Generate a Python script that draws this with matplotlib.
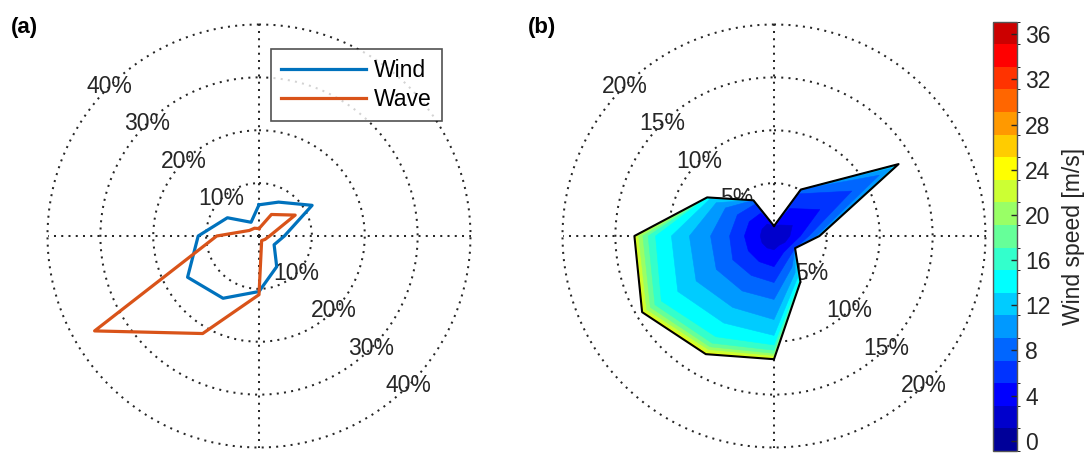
import numpy as np
import matplotlib
matplotlib.use("Agg")
import matplotlib.pyplot as plt
from matplotlib.colors import ListedColormap, BoundaryNorm
from matplotlib.lines import Line2D
import matplotlib.cm as cm

plt.rcParams['font.family'] = ['Liberation Sans', 'DejaVu Sans']

# ---------------- data ----------------
directions = [0, 30, 60, 90, 120, 150, 180, 210, 240, 270, 300, 330]   # deg, clockwise from N

# panel (a): occurrence frequency (%) per direction
wind_freq = [5.9, 7.4, 11.6, 4.8, 3.3, 6.7, 10.5, 13.6, 15.6, 11.5, 6.9, 3.0]
wave_freq = [1.4, 4.7, 7.9, 2.0, 1.3, 1.0, 11.1, 21.3, 35.9, 8.0, 2.1, 1.7]
rings_a = [10, 20, 30, 40]
ring_labels_a = ['10%', '20%', '30%', '40%']

# panel (b): cumulative frequency (%) at upper edge of each speed class, per direction
speed_edges = [-0.9, 1.1, 3.1, 5.1, 7.1, 9.1, 11.1, 13.1, 15.1, 17.1, 19.1,
               21.1, 23.1, 25.1, 27.1, 29.1, 31.1, 33.1, 35.1, 37.1]
# rows = speed classes 2..13 (1.1-3.1 m/s ... 23.1-25.1 m/s)
cum_freq_b = [
    [0.95, 1.2, 2.0, 1.5, 1.2, 1.0, 1.3, 1.3, 1.3, 1.3, 1.3, 1.3],
    [0.95, 3.0, 5.0, 2.5, 1.8, 1.8, 2.9, 2.8, 2.8, 2.8, 2.7, 2.5],
    [0.95, 4.6, 8.5, 3.3, 2.3, 2.6, 4.4, 4.3, 4.5, 4.2, 4.0, 3.5],
    [0.95, 5.07, 11.5, 4.0, 2.3, 3.4, 6.0, 6.0, 6.3, 6.0, 5.3, 3.9],
    [0.95, 5.07, 12.8, 4.3, 2.3, 4.0, 7.9, 7.8, 8.5, 8.0, 6.3, 3.9],
    [0.95, 5.07, 13.3, 4.3, 2.3, 4.5, 9.4, 9.5, 10.5, 9.7, 7.0, 3.9],
    [0.95, 5.07, 13.6, 4.3, 2.3, 4.8, 10.3, 11.0, 12.3, 11.2, 7.3, 3.9],
    [0.95, 5.07, 13.6, 4.3, 2.3, 5.0, 10.8, 11.7, 13.0, 11.9, 7.3, 3.9],
    [0.95, 5.07, 13.6, 4.3, 2.3, 5.0, 11.1, 12.1, 13.5, 12.4, 7.3, 3.9],
    [0.95, 5.07, 13.6, 4.3, 2.3, 5.0, 11.3, 12.4, 13.9, 12.8, 7.3, 3.9],
    [0.95, 5.07, 13.6, 4.3, 2.3, 5.0, 11.5, 12.7, 14.2, 13.05, 7.3, 3.9],
    [0.95, 5.07, 13.6, 4.3, 2.3, 5.0, 11.65, 12.9, 14.4, 13.2, 7.3, 3.9],
]
first_class = 2
rings_b = [5, 10, 15, 20]
ring_labels_b = ['5%', '10%', '15%', '20%']
cbar_ticks = [0, 4, 8, 12, 16, 20, 24, 28, 32, 36]

# MATLAB jet(19)
jet19 = [(0, 0, .6), (0, 0, .8), (0, 0, 1), (0, .2, 1), (0, .4, 1), (0, .6, 1),
         (0, .8, 1), (0, 1, 1), (.2, 1, .8), (.4, 1, .6), (.6, 1, .4), (.8, 1, .2),
         (1, 1, 0), (1, .8, 0), (1, .6, 0), (1, .4, 0), (1, .2, 0), (1, 0, 0), (.8, 0, 0)]

# ---------------- figure ----------------
W, H = 1089, 453
fig = plt.figure(figsize=(W / 100, H / 100), dpi=100)

R = 211.5
grid_kw = dict(color='#262626', linestyle=(0, (1, 2.6)), linewidth=1.45)
FS = 16.5


def make_polar(cx, cy, rmax, rings):
    ax = fig.add_axes([(cx - R) / W, (H - cy - R) / H, 2 * R / W, 2 * R / H],
                      projection='polar')
    ax.set_theta_zero_location('N')
    ax.set_theta_direction(-1)
    ax.set_ylim(0, rmax)
    ax.set_rgrids(rings, labels=[])
    ax.set_thetagrids([0, 90, 180, 270], labels=[])
    ax.grid(True, **grid_kw)
    for gl in ax.yaxis.get_gridlines() + ax.xaxis.get_gridlines():
        gl.set_clip_on(False)
    ax.spines['polar'].set_visible(False)
    ax.patch.set_visible(False)
    ax.tick_params(length=0)
    return ax


def closed(v):
    return np.r_[v, v[0]]


theta = np.deg2rad(directions)
theta_c = closed(theta)

# ---- panel (a)
axa = make_polar(259, 236, 40, rings_a)
for r, lab in zip(rings_a, ring_labels_a):
    for ang in (315, 135):
        axa.text(np.deg2rad(ang), r, lab, ha='center', va='center', fontsize=FS,
                 color='#262626', zorder=1)
axa.plot(theta_c, closed(wind_freq), color='#0072BD', lw=2.3, zorder=3)
axa.plot(theta_c, closed(wave_freq), color='#D95319', lw=2.3, zorder=4)
handles = [Line2D([], [], color='#0072BD', lw=2.3), Line2D([], [], color='#D95319', lw=2.3)]
leg = axa.legend(handles, ['Wind', 'Wave'], loc='upper left',
                 bbox_to_anchor=(271 / W, 1 - 49 / H), bbox_transform=fig.transFigure,
                 fontsize=FS, frameon=True, fancybox=False, edgecolor='#262626',
                 handlelength=3.7, handletextpad=0.35, labelspacing=0.25,
                 borderpad=0.45, borderaxespad=0)
leg.get_frame().set_linewidth(1.2)

# ---- panel (b)
axb = make_polar(774, 236, 20, rings_b)
for r, lab in zip(rings_b, ring_labels_b):
    for ang in (315, 135):
        axb.text(np.deg2rad(ang), r, lab, ha='center', va='center', fontsize=FS,
                 color='#262626', zorder=1)
n_cls = len(cum_freq_b)
for i in range(n_cls - 1, -1, -1):
    col = jet19[first_class - 1 + i]
    axb.fill(theta_c, closed(cum_freq_b[i]), facecolor=col, edgecolor=col, lw=0.4, zorder=2)
axb.plot(theta_c, closed(cum_freq_b[-1]), color='black', lw=1.5, zorder=3)

# colorbar
cmap = ListedColormap(jet19)
norm = BoundaryNorm(speed_edges, cmap.N)
cax = fig.add_axes([993 / W, (H - 451) / H, 24 / W, (451 - 21.7) / H])
sm = cm.ScalarMappable(norm=norm, cmap=cmap)
cb = fig.colorbar(sm, cax=cax, ticks=cbar_ticks)
cb.ax.tick_params(direction='in', length=4, labelsize=FS, colors='#262626', width=1, pad=6)
cb.outline.set_edgecolor('#555555')
cb.outline.set_linewidth(1)
cb.set_label('Wind speed [m/s]', fontsize=FS, color='#262626', labelpad=8)

fig.text(24 / W, 1 - 27 / H, '(a)', fontsize=16, fontweight='bold', ha='center', va='center')
fig.text(542 / W, 1 - 27 / H, '(b)', fontsize=16, fontweight='bold', ha='center', va='center')

fig.savefig('out.png', dpi=100)
